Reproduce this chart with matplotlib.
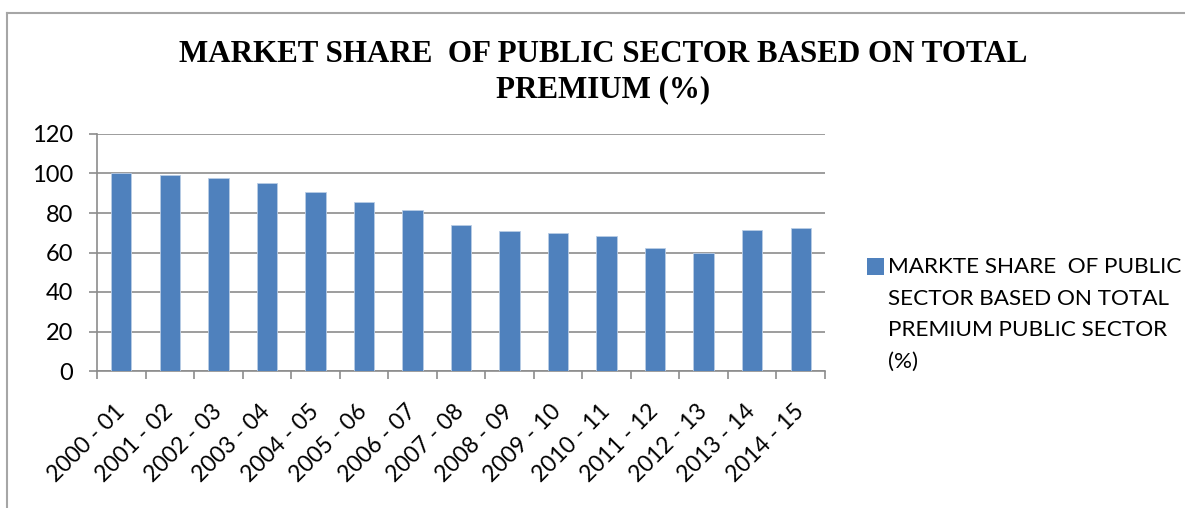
import numpy as np
import matplotlib.pyplot as plt
from matplotlib.lines import Line2D
from matplotlib.patches import Rectangle

years = ['2000 - 01', '2001 - 02', '2002 - 03', '2003 - 04', '2004 - 05',
         '2005 - 06', '2006 - 07', '2007 - 08', '2008 - 09', '2009 - 10',
         '2010 - 11', '2011 - 12', '2012 - 13', '2013 - 14', '2014 - 15']
share = [100.0, 99.0, 97.5, 95.1, 90.6, 85.6, 81.7, 73.8, 70.8, 69.9,
         68.4, 62.1, 59.9, 71.6, 72.3]
yticks = [0, 20, 40, 60, 80, 100, 120]

title = 'MARKET SHARE  OF PUBLIC SECTOR BASED ON TOTAL\nPREMIUM (%)'
legend_label = 'MARKTE SHARE  OF PUBLIC\nSECTOR BASED ON TOTAL\nPREMIUM PUBLIC SECTOR\n(%)'

W, H = 1185, 508
fig = plt.figure(figsize=(W / 100, H / 100), dpi=100)

def fx(px):
    return px / W

def fy(py):
    return 1 - py / H

# chart area border (top and left only visible)
fig.lines.append(Line2D([fx(7), 1.0], [fy(12.5), fy(12.5)], transform=fig.transFigure,
                        color='#a6a6a6', linewidth=1.5))
fig.lines.append(Line2D([fx(7), fx(7)], [fy(12.5), 0.0], transform=fig.transFigure,
                        color='#a6a6a6', linewidth=1.5))

ax = fig.add_axes([fx(97), fy(371), fx(825 - 97), (371 - 134) / H])
x = np.arange(len(years))
bars = ax.bar(x, share, width=0.42, color='#4f81bd', edgecolor='#b9cde5',
              linewidth=0.6, zorder=3)

ax.set_xlim(-0.5, len(years) - 0.5)
ax.set_ylim(0, 120)
ax.set_yticks(yticks)
ax.set_yticklabels([str(v) for v in yticks], fontsize=17, family='Lato')
ax.yaxis.grid(True, color='#8c8c8c', linewidth=1.2, zorder=0)
ax.set_axisbelow(True)

# excel style category ticks at boundaries
ax.set_xticks(np.arange(len(years) + 1) - 0.5)
ax.set_xticklabels([])
ax.set_xticks(x, minor=True)
ax.set_xticklabels(years, minor=True, rotation=45, ha='right', va='center',
                   rotation_mode='anchor', fontsize=16.5, family='Lato')
ax.tick_params(axis='x', which='minor', length=0, pad=27)
ax.tick_params(axis='x', which='major', length=6, color='#8c8c8c', width=1.2)
ax.tick_params(axis='y', length=6, color='#8c8c8c', width=1.2, pad=11)

for side in ['top', 'right']:
    ax.spines[side].set_visible(False)
for side in ['left', 'bottom']:
    ax.spines[side].set_color('#8c8c8c')
    ax.spines[side].set_linewidth(1.2)

# va='baseline' anchors the last line of a multi-line text
fig.text(fx(603), fy(97), title, ha='center', va='baseline',
         family='Liberation Serif', fontweight='bold', fontsize=22.3,
         linespacing=1.27)

# legend: square key aligned with the first text line
fig.patches.append(Rectangle((fx(867), fy(275)), 17 / W, 17 / H,
                             transform=fig.transFigure, facecolor='#4f81bd',
                             edgecolor='none'))
fig.text(fx(888), fy(368), legend_label, ha='left', va='baseline',
         family='Lato', fontsize=16.2, linespacing=1.72)

fig.savefig('out.png', dpi=100)
